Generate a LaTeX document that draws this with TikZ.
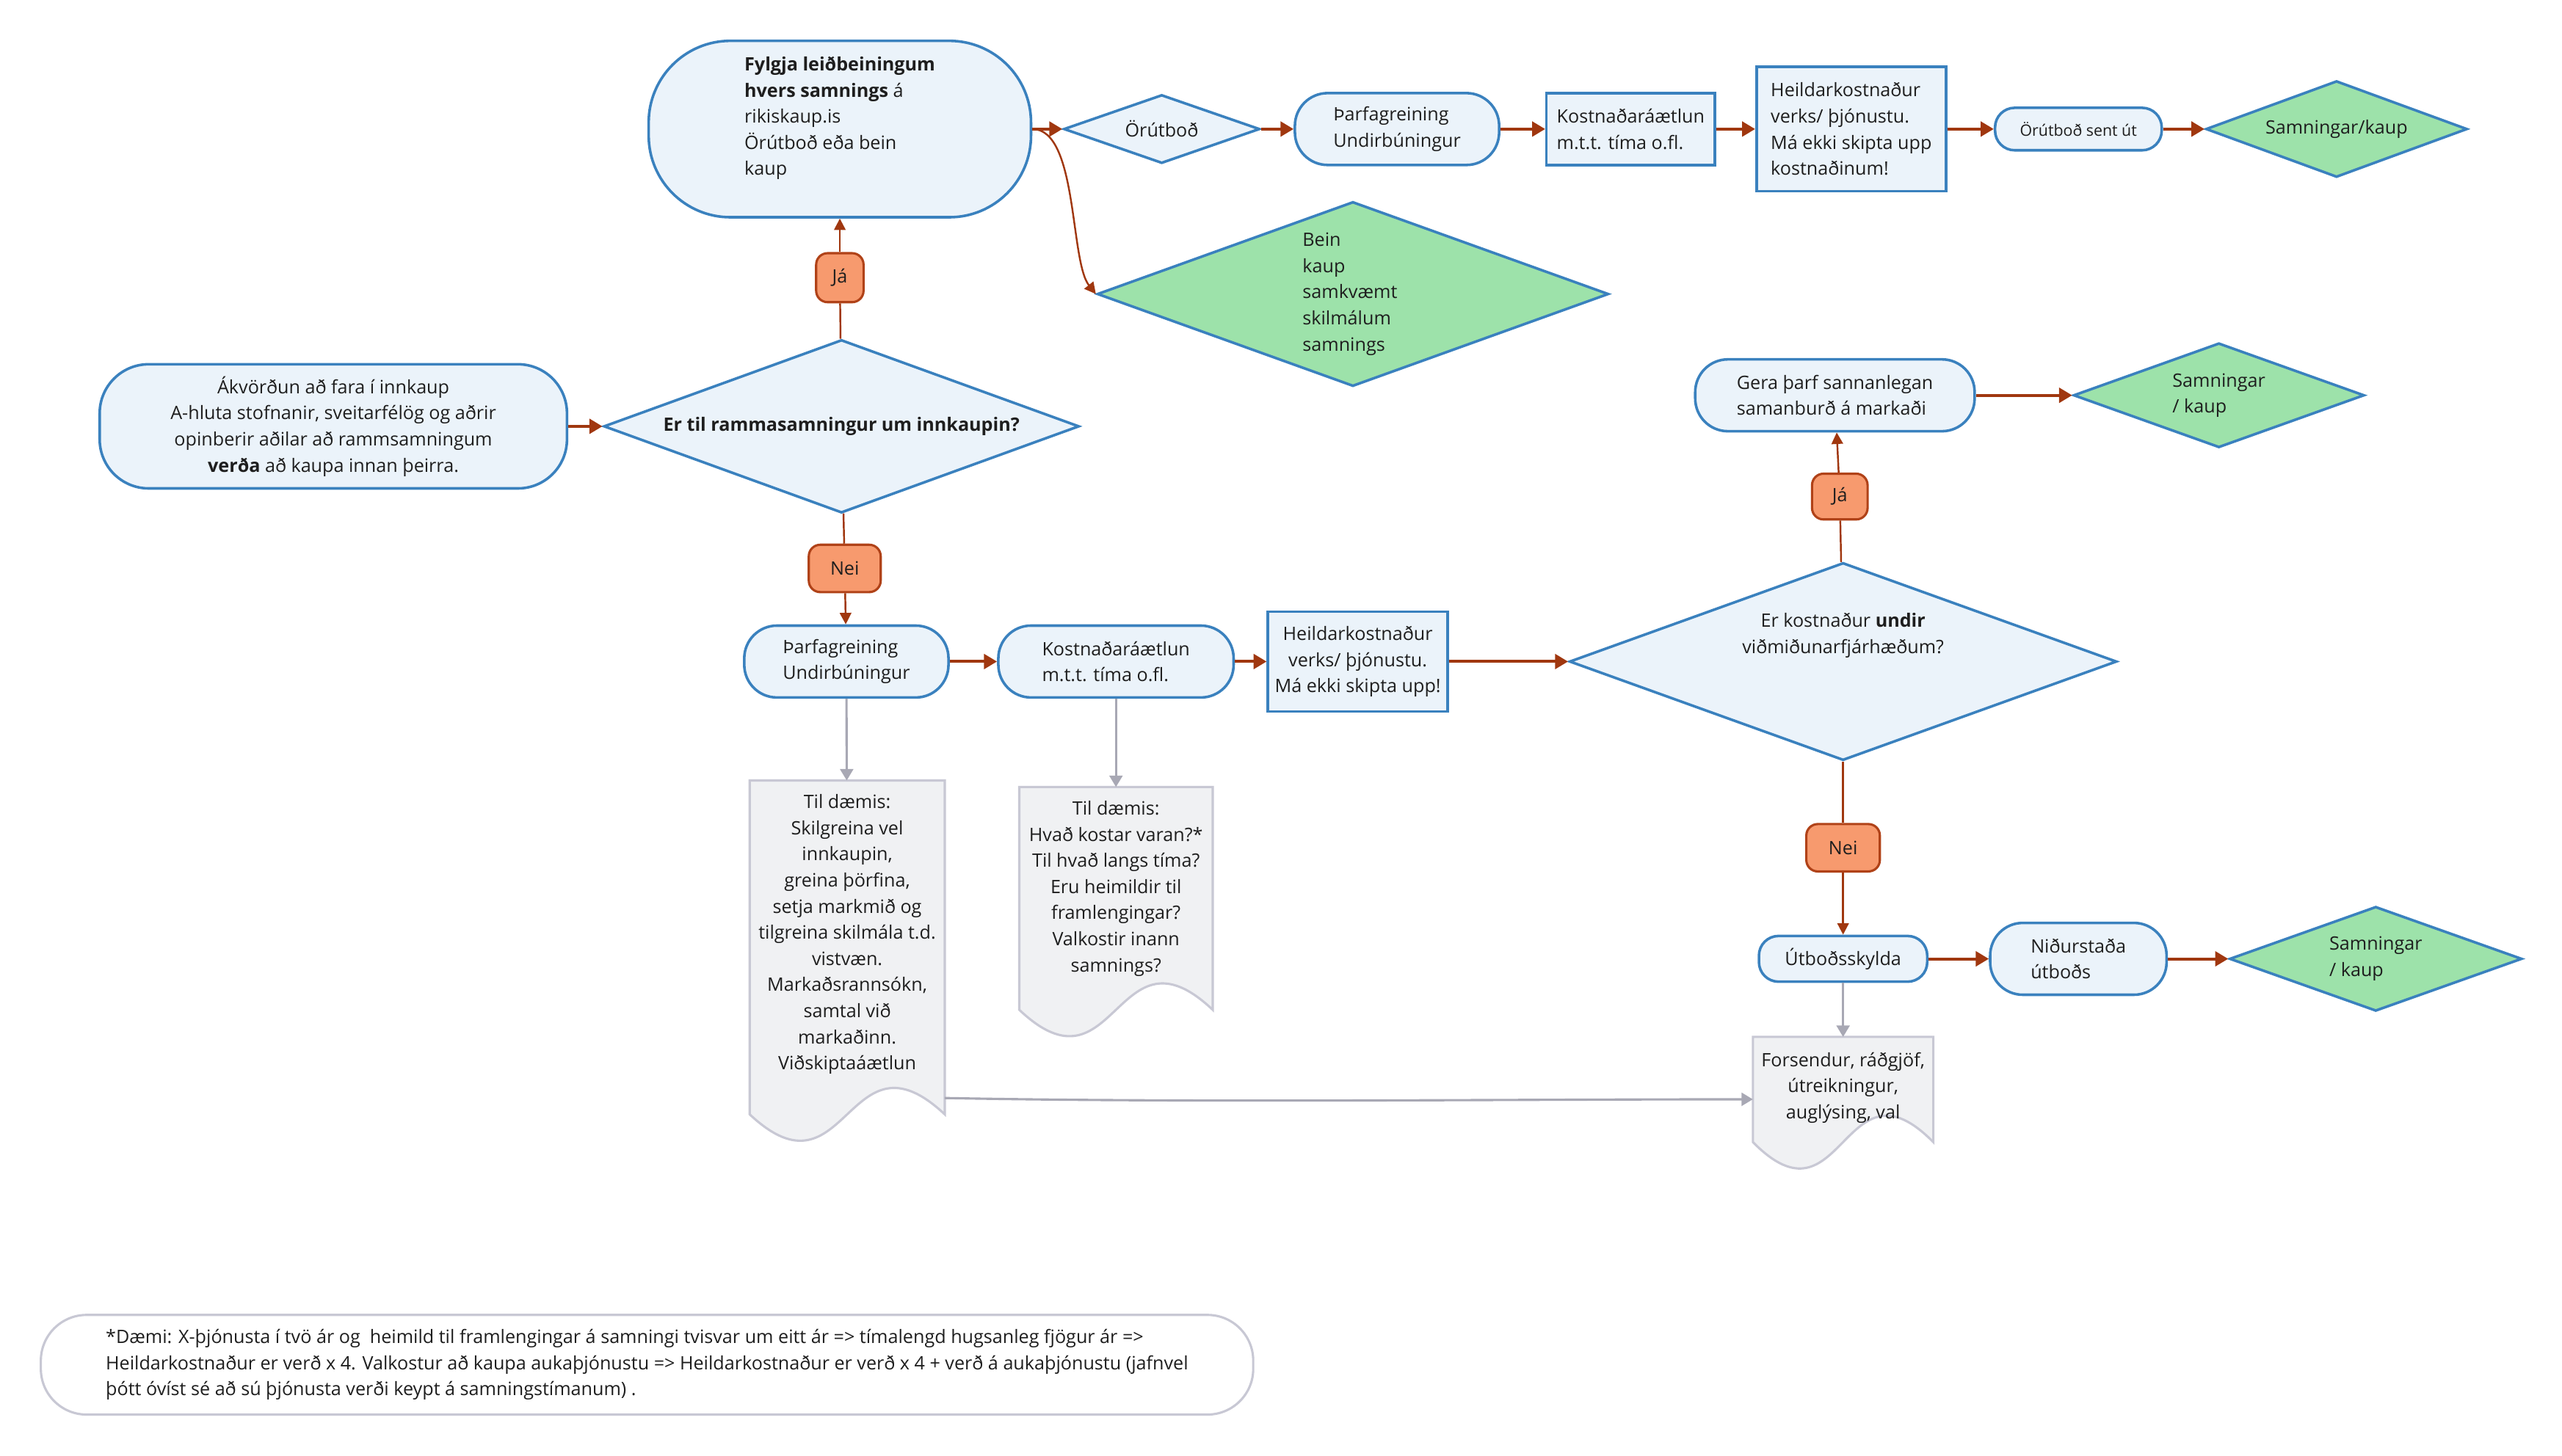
\documentclass[tikz,border=0pt]{standalone}
\usepackage{fontspec}
\setmainfont{Open Sans}
\usepackage{tikz}
\usetikzlibrary{arrows.meta,shapes.geometric,calc,backgrounds}

\definecolor{boxfill}{RGB}{235,243,250}
\definecolor{boxline}{RGB}{58,129,190}
\definecolor{okgreen}{RGB}{157,226,170}
\definecolor{ynfill}{RGB}{247,154,110}
\definecolor{ynline}{RGB}{176,66,24}
\definecolor{flowred}{RGB}{160,55,15}
\definecolor{docfill}{RGB}{240,241,243}
\definecolor{docline}{RGB}{200,200,212}
\definecolor{notegray}{RGB}{168,168,180}
\definecolor{ink}{RGB}{30,30,30}

\begin{document}
\begin{tikzpicture}[x=1pt, y=-1pt, font=\fontsize{11.3}{16}\selectfont, text=ink,
  box/.style={draw=boxline, fill=boxfill, line width=1.6pt, inner sep=0pt, align=left},
  rbox/.style={box, rounded corners=20pt},
  dia/.style={diamond, draw=boxline, fill=boxfill, line width=1.6pt, inner sep=0pt},
  gdia/.style={dia, fill=okgreen},
  lbl/.style={inner sep=0pt, align=left},
  yn/.style={draw=ynline, fill=ynfill, line width=1.4pt, rounded corners=7pt, inner sep=0pt},
  doc/.style={inner sep=0pt, align=center, minimum width=#1},
  flow/.style={draw=flowred, line width=1.8pt, -{Triangle[length=8pt,width=9pt]}},
  thinflow/.style={draw=flowred, line width=1.1pt, -{Triangle[length=7pt,width=7pt]}},
  link/.style={draw=flowred, line width=1.1pt, -},
  noteflow/.style={draw=notegray, line width=1.4pt, -{Triangle[length=7pt,width=8pt]}}]
\useasboundingbox (0,0) rectangle (1568,891);

% upper part
\node[rbox, align=center, rounded corners=30pt, minimum width=286, minimum height=76] (1) at (204,261) {Ákvörðun að fara í innkaup\\A-hluta stofnanir, sveitarfélög og aðrir\\opinberir aðilar að rammsamningum\\\textbf{verða} að kaupa innan þeirra.};
\node[dia, minimum width=291, minimum height=106] (2) at (515,261) {};
\node[lbl] (t2) at (515,261) {\textbf{Er til rammasamningur um innkaupin?}};
\node[yn, minimum width=29, minimum height=30] (3) at (514,170) {Já};
\node[rbox, rounded corners=50pt, minimum width=234, minimum height=108] (4) at (514,79) {\textbf{Fylgja leiðbeiningum}\\\textbf{hvers samnings} á\\rikiskaup.is\\Örútboð eða bein\\kaup\\\mbox{}};
\node[dia, minimum width=120, minimum height=42] (5) at (711,79) {};
\node[lbl] (t5) at (711,79) {Örútboð};
\node[gdia, minimum width=313, minimum height=113] (6) at (828,180) {};
\node[lbl, anchor=west] (t6) at (797,180) {Bein\\kaup\\samkvæmt\\skilmálum\\samnings};
\node[rbox, minimum width=125, minimum height=44] (7) at (855,79) {Þarfagreining\\Undirbúningur};
\node[box, minimum width=103, minimum height=44] (8) at (998,79) {Kostnaðaráætlun\\m.t.t. tíma o.fl.};
\node[box, minimum width=116, minimum height=76] (9) at (1133,79) {Heildarkostnaður\\verks/ þjónustu.\\Má ekki skipta upp\\kostnaðinum!};
\node[rbox, rounded corners=12pt, minimum width=102, minimum height=26, font=\fontsize{9.6}{12}\selectfont] (10) at (1272,79) {Örútboð sent út};
\node[gdia, minimum width=160, minimum height=59] (11) at (1430,79) {};
\node[lbl] (t11) at (1430,79) {Samningar/kaup};

% lower part
\node[yn, minimum width=44, minimum height=29] (12) at (517,348) {Nei};
\node[rbox, minimum width=125, minimum height=44] (13) at (518,405) {Þarfagreining\\Undirbúningur};
\node[rbox, minimum width=144, minimum height=44] (14) at (683,405) {Kostnaðaráætlun\\m.t.t. tíma o.fl.};
\node[box, align=center, minimum width=110, minimum height=61] (15) at (831,405) {Heildarkostnaður\\verks/ þjónustu.\\Má ekki skipta upp!};
\node[dia, minimum width=335, minimum height=121] (16) at (1128,405) {};
\node[lbl, align=center] (t16) at (1128,389) {Er kostnaður \textbf{undir}\\viðmiðunarfjárhæðum?};
\node[yn, minimum width=34, minimum height=28] (17) at (1126,304) {Já};
\node[rbox, minimum width=171, minimum height=44] (18) at (1123,242) {Gera þarf sannanlegan\\samanburð á markaði};
\node[gdia, minimum width=178, minimum height=64] (19) at (1358,242) {};
\node[lbl] (t19) at (1358,242) {Samningar\\/ kaup};
\node[yn, minimum width=45, minimum height=29] (20) at (1128,519) {Nei};
\node[rbox, rounded corners=12pt, minimum width=103, minimum height=28] (21) at (1128,587) {Útboðsskylda};
\node[rbox, minimum width=108, minimum height=44] (22) at (1272,587) {Niðurstaða\\útboðs};
\node[gdia, minimum width=179, minimum height=64] (23) at (1454,587) {};
\node[lbl] (t23) at (1454,587) {Samningar\\/ kaup};

% documents
\node[doc=119, minimum height=188] (24) at (518.5,572) {Til dæmis:\\Skilgreina vel\\innkaupin,\\greina þörfina,\\setja markmið og\\tilgreina skilmála t.d.\\vistvæn.\\Markaðsrannsókn,\\samtal við\\markaðinn.\\Viðskiptaáætlun};
\node[doc=118, minimum height=124] (25) at (683,544) {Til dæmis:\\Hvað kostar varan?*\\Til hvað langs tíma?\\Eru heimildir til\\framlengingar?\\Valkostir inann\\samnings?};
\node[doc=110, minimum height=62] (26) at (1128,666) {Forsendur, ráðgjöf,\\útreikningur,\\auglýsing, val};
\begin{scope}[on background layer]
\foreach \d/\e in {24/16,25/12,26/2}
  \filldraw[fill=docfill, draw=docline, line width=1.4pt] (\d.north west) -- ($(\d.south west)+(0,\e)$) .. controls ($(\d.south)+(0,\e+56)$) and ($(\d.south)+(0,\e-56)$) .. ($(\d.south east)+(0,\e)$) -- (\d.north east) -- cycle;
\end{scope}

% footnote
\node[draw=docline, line width=1.4pt, rounded corners=28pt, minimum width=742, minimum height=61, inner sep=0pt, align=left] (27) at (396,835.5) {*Dæmi: X-þjónusta í tvö ár og\ \ heimild til framlengingar á samningi tvisvar um eitt ár => tímalengd hugsanleg fjögur ár =>\\Heildarkostnaður er verð x 4. Valkostur að kaupa aukaþjónustu => Heildarkostnaður er verð x 4 + verð á aukaþjónustu (jafnvel\\þótt óvíst sé að sú þjónusta verði keypt á samningstímanum) .};

\path
(1) edge[flow] (2)
(2) edge[link] (3)
(3) edge[thinflow] (4)
(4) edge[flow] (5)
(5) edge[flow] (7)
(7) edge[flow] (8)
(8) edge[flow] (9)
(9) edge[flow] (10)
(10) edge[flow] (11)
(2) edge[link] (12)
(12) edge[thinflow] (13)
(13) edge[flow] (14)
(14) edge[flow] (15)
(15) edge[flow] (16)
(16) edge[link] (17)
(17) edge[thinflow] (18)
(18) edge[flow] (19)
(16) edge[link] (20)
(20) edge[thinflow] (21)
(21) edge[flow] (22)
(22) edge[flow] (23)
(13) edge[noteflow] (24)
(14) edge[noteflow] (25)
(21) edge[noteflow] (26);
\draw[thinflow] (4.east) .. controls +(28,0) and +(-16,-20) .. (6.west);
\draw[noteflow] ($(24.south east)+(0,6)$) .. controls +(150,3) and +(-150,0) .. ($(26.west)+(0,7)$);
\end{tikzpicture}
\end{document}
